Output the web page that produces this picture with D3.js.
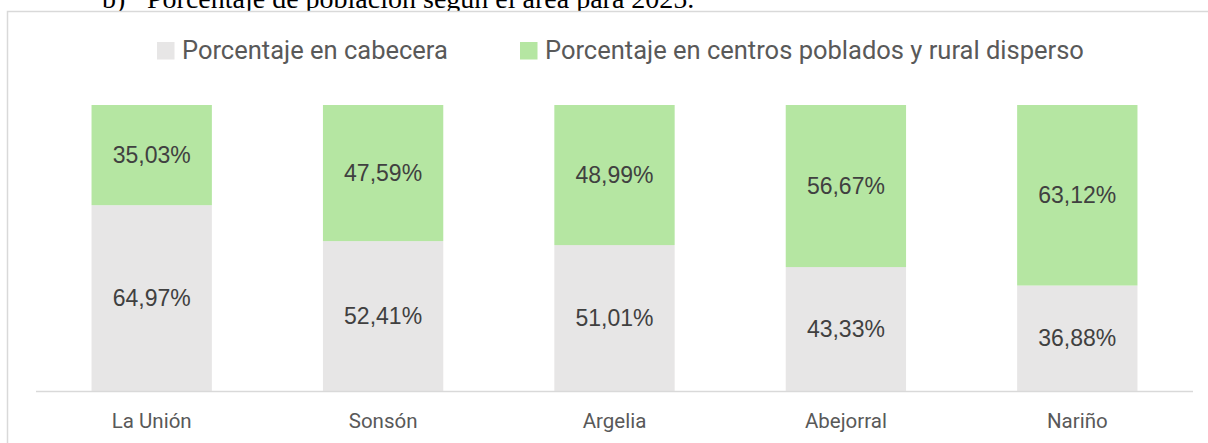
<!DOCTYPE html>
<html>
<head>
<meta charset="utf-8">
<script src="https://cdn.jsdelivr.net/npm/d3@7"></script>
<style>
  body { margin: 0; background: #fff; }
  svg { display: block; }
</style>
</head>
<body>
<svg id="chart" width="1208" height="443"></svg>
<script>
const municipios = ['La Unión', 'Sonsón', 'Argelia', 'Abejorral', 'Nariño'];
const cabecera = [64.97, 52.41, 51.01, 43.33, 36.88];
const rural = [35.03, 47.59, 48.99, 56.67, 63.12];
const series_names = ['Porcentaje en cabecera', 'Porcentaje en centros poblados y rural disperso'];
const colors = ['#e7e6e6', '#b5e6a2'];

const svg = d3.select('#chart');
const font = 'Roboto, "Liberation Sans", sans-serif';
const label_font = '"Liberation Sans", Arial, sans-serif';
const serif = '"Liberation Serif", "Times New Roman", serif';

// caption above the chart box (cut at the top)
svg.append('text')
    .attr('x', 102).attr('y', 7.5)
    .style('font-family', serif).style('font-size', '28px')
    .attr('fill', '#000')
    .text('b)');
svg.append('text')
    .attr('x', 147).attr('y', 7.5)
    .style('font-family', serif).style('font-size', '28px')
    .attr('fill', '#000')
    .text('Porcentaje de población según el área para 2025.');

// chart box
svg.append('rect')
    .attr('x', 7.5).attr('y', 11.5)
    .attr('width', 1220).attr('height', 460)
    .attr('fill', '#fff')
    .attr('stroke', '#d9d9d9')
    .attr('stroke-width', 1.5);

const margin = {left: 36, right: 15, top: 105, bottom: 52};
const width = 1208 - margin.left - margin.right;
const base_y = 391;

const x = d3.scaleBand()
    .domain(municipios)
    .range([margin.left, margin.left + width])
    .paddingInner(0.48)
    .paddingOuter(0.24);

const y = d3.scaleLinear()
    .domain([0, 100])
    .range([base_y, margin.top]);

const table = municipios.map((m, i) => ({municipio: m, cabecera: cabecera[i], rural: rural[i]}));
const stack = d3.stack().keys(['cabecera', 'rural'])(table);

const g = svg.append('g');

stack.forEach((layer, k) => {
    g.append('g').selectAll('rect')
        .data(layer)
        .join('rect')
        .attr('x', d => x(d.data.municipio))
        .attr('y', d => y(d[1]))
        .attr('width', x.bandwidth())
        .attr('height', d => y(d[0]) - y(d[1]))
        .attr('fill', colors[k]);

    g.append('g').selectAll('text')
        .data(layer)
        .join('text')
        .attr('x', d => x(d.data.municipio) + x.bandwidth() / 2)
        .attr('y', d => (y(d[0]) + y(d[1])) / 2 + 8)
        .attr('text-anchor', 'middle')
        .style('font-family', label_font)
        .style('font-size', '23px')
        .attr('fill', '#404040')
        .text(d => (d[1] - d[0]).toFixed(2).replace('.', ',') + '%');
});

// x axis
const xAxis = svg.append('g')
    .attr('transform', `translate(0, ${base_y})`)
    .call(d3.axisBottom(x).tickSize(0));
xAxis.select('.domain').attr('stroke', '#d9d9d9').attr('stroke-width', 1.5)
    .attr('d', `M${margin.left},0.5H${margin.left + width}`);
xAxis.selectAll('text')
    .attr('y', 37).attr('dy', null)
    .style('font-family', font)
    .style('font-size', '20.5px')
    .attr('fill', '#595959');

// legend
const legend_items = [
    {name: series_names[0], color: colors[0], x: 157},
    {name: series_names[1], color: colors[1], x: 520}
];
const lg = svg.append('g');
legend_items.forEach(it => {
    lg.append('rect')
        .attr('x', it.x).attr('y', 42)
        .attr('width', 17.5).attr('height', 17.5)
        .attr('fill', it.color);
    lg.append('text')
        .attr('x', it.x + 25).attr('y', 59)
        .style('font-family', font)
        .style('font-size', '25.5px')
        .attr('fill', '#595959')
        .text(it.name);
});
</script>
</body>
</html>
